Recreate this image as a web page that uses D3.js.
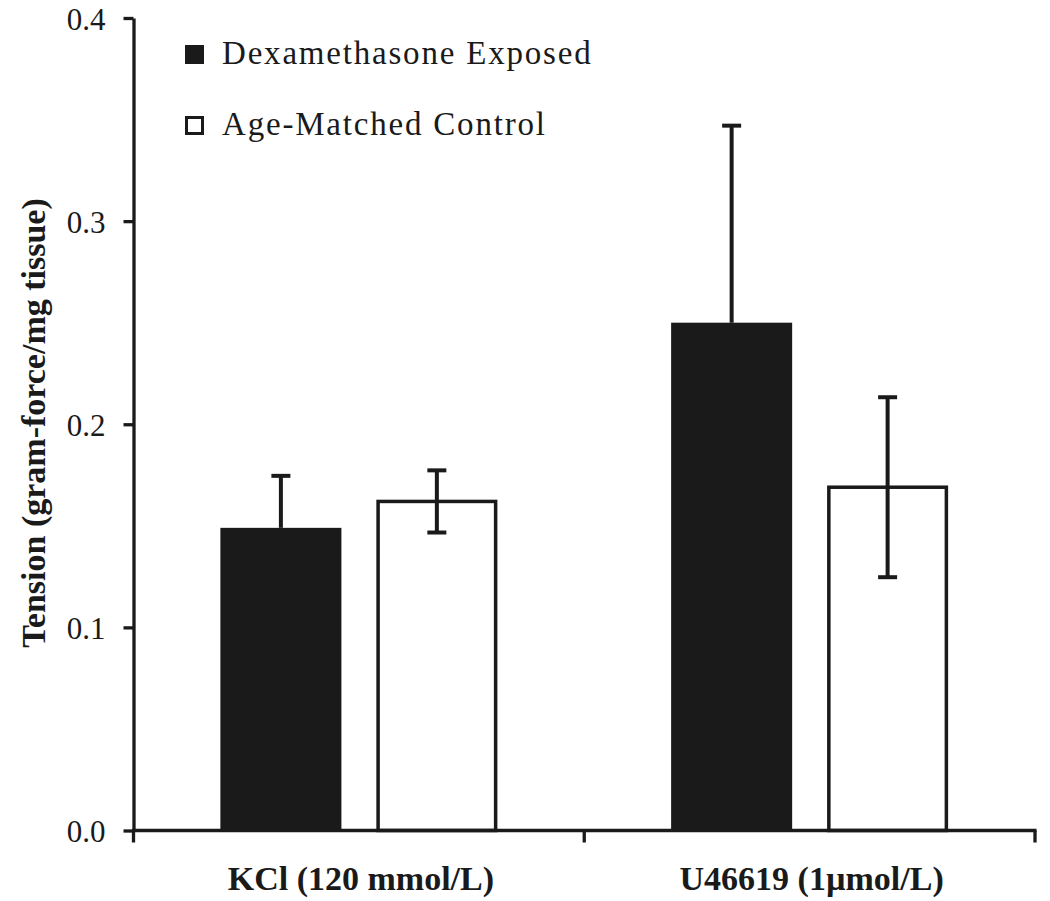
<!DOCTYPE html>
<html>
<head>
<meta charset="utf-8">
<script src="https://cdn.jsdelivr.net/npm/d3@7"></script>
<style>
  html, body { margin: 0; padding: 0; background: #fff; }
  svg { display: block; }
  text { font-family: "Liberation Serif", "Times New Roman", serif; fill: #1a1a1a; }
</style>
</head>
<body>
<svg id="chart" width="1050" height="901"></svg>
<script>
// ---- data ----
const categories = ["KCl (120 mmol/L)", "U46619 (1\u00b5mol/L)"];
const seriesNames = ["Dexamethasone Exposed", "Age-Matched Control"];
const dexaValues = [0.149, 0.250];
const dexaErrors = [0.0256, 0.097];
const controlValues = [0.162, 0.169];
const controlErrors = [0.0153, 0.0443];
const yTicks = [0.0, 0.1, 0.2, 0.3, 0.4];

(function () {
const series = [
  { name: seriesNames[0], values: dexaValues, errors: dexaErrors, fill: "#1a1a1a", lowerErr: false },
  { name: seriesNames[1], values: controlValues, errors: controlErrors, fill: "#ffffff", lowerErr: true }
];

const svg = d3.select("#chart");
const ink = "#1a1a1a";

const pLeft = 133.5, pRight = 1035, pTop = 18, pBottom = 830.5;

const y = d3.scaleLinear().domain([0, 0.4]).range([pBottom, pTop]);
const x0 = d3.scaleBand().domain(categories).range([pLeft, pRight]).padding(0);
const x1 = d3.scaleBand().domain(seriesNames).range([0, x0.bandwidth()])
  .paddingInner(0.224).paddingOuter(0.557);

// bars
const groups = svg.append("g").selectAll("g")
  .data(categories)
  .join("g")
  .attr("transform", d => `translate(${x0(d)},0)`);

series.forEach(s => {
  const hollow = s.fill === "#ffffff";
  groups.append("rect")
    .attr("x", x1(s.name) + (hollow ? 1.75 : 0))
    .attr("width", x1.bandwidth() - (hollow ? 3.5 : 0))
    .attr("y", (d, i) => y(s.values[i]))
    .attr("height", (d, i) => pBottom - y(s.values[i]))
    .attr("fill", s.fill)
    .attr("stroke", hollow ? ink : "none")
    .attr("stroke-width", 3.5);
});

// error bars
const capW = 19;
series.forEach(s => {
  groups.each(function (d, i) {
    const g = d3.select(this);
    const cx = x1(s.name) + x1.bandwidth() / 2;
    const v = s.values[i], e = s.errors[i];
    const yTop = y(v + e);
    const yBot = s.lowerErr ? y(v - e) : y(v);
    g.append("line").attr("x1", cx).attr("x2", cx).attr("y1", yTop).attr("y2", yBot)
      .attr("stroke", ink).attr("stroke-width", 4);
    g.append("line").attr("x1", cx - capW / 2).attr("x2", cx + capW / 2).attr("y1", yTop).attr("y2", yTop)
      .attr("stroke", ink).attr("stroke-width", 4);
    if (s.lowerErr) {
      g.append("line").attr("x1", cx - capW / 2).attr("x2", cx + capW / 2).attr("y1", yBot).attr("y2", yBot)
        .attr("stroke", ink).attr("stroke-width", 4);
    }
  });
});

// y axis
const yAxis = d3.axisLeft(y)
  .tickValues(yTicks)
  .tickFormat(d3.format(".1f"))
  .tickSize(10)
  .tickSizeOuter(0)
  .tickPadding(18);
const yg = svg.append("g").attr("transform", `translate(${pLeft},0)`).call(yAxis);
yg.select(".domain").attr("stroke", ink).attr("stroke-width", 3.3);
yg.selectAll(".tick line").attr("stroke", ink).attr("stroke-width", 3.3);
yg.selectAll(".tick text")
  .attr("font-family", "'Liberation Serif', 'Times New Roman', serif")
  .attr("font-size", 31)
  .attr("fill", ink)
  .attr("dy", "0.36em");

// x axis
const xg = svg.append("g");
xg.append("line").attr("x1", pLeft - 1.5).attr("x2", pRight + 1.5).attr("y1", pBottom).attr("y2", pBottom)
  .attr("stroke", ink).attr("stroke-width", 3.3);
const boundaries = categories.map(c => x0(c)).concat([x0(categories[categories.length - 1]) + x0.bandwidth()]);
xg.selectAll("line.tick").data(boundaries).join("line")
  .attr("class", "tick")
  .attr("x1", d => d).attr("x2", d => d)
  .attr("y1", pBottom).attr("y2", pBottom + 12)
  .attr("stroke", ink).attr("stroke-width", 3.3);
xg.selectAll("text").data(categories).join("text")
  .attr("x", d => x0(d) + x0.bandwidth() / 2 + 2)
  .attr("y", 890)
  .attr("text-anchor", "middle")
  .attr("font-weight", "bold")
  .attr("font-size", 34)
  .text(d => d);

// y title
svg.append("text")
  .attr("transform", "translate(45,423) rotate(-90)")
  .attr("text-anchor", "middle")
  .attr("font-weight", "bold")
  .attr("font-size", 34)
  .text("Tension (gram-force/mg tissue)");

// legend
const legend = svg.append("g").selectAll("g").data(series).join("g")
  .attr("transform", (d, i) => `translate(185,${45 + i * 71})`);
legend.append("rect")
  .attr("x", d => d.fill === "#ffffff" ? 1.5 : 0)
  .attr("y", d => d.fill === "#ffffff" ? 1.5 : 0)
  .attr("width", d => d.fill === "#ffffff" ? 16 : 19)
  .attr("height", d => d.fill === "#ffffff" ? 16 : 19)
  .attr("fill", d => d.fill)
  .attr("stroke", d => d.fill === "#ffffff" ? ink : "none")
  .attr("stroke-width", 3);
legend.append("text")
  .attr("x", 37)
  .attr("y", 19)
  .attr("font-size", 33)
  .attr("letter-spacing", 1.8)
  .text(d => d.name);
})();
</script>
</body>
</html>
